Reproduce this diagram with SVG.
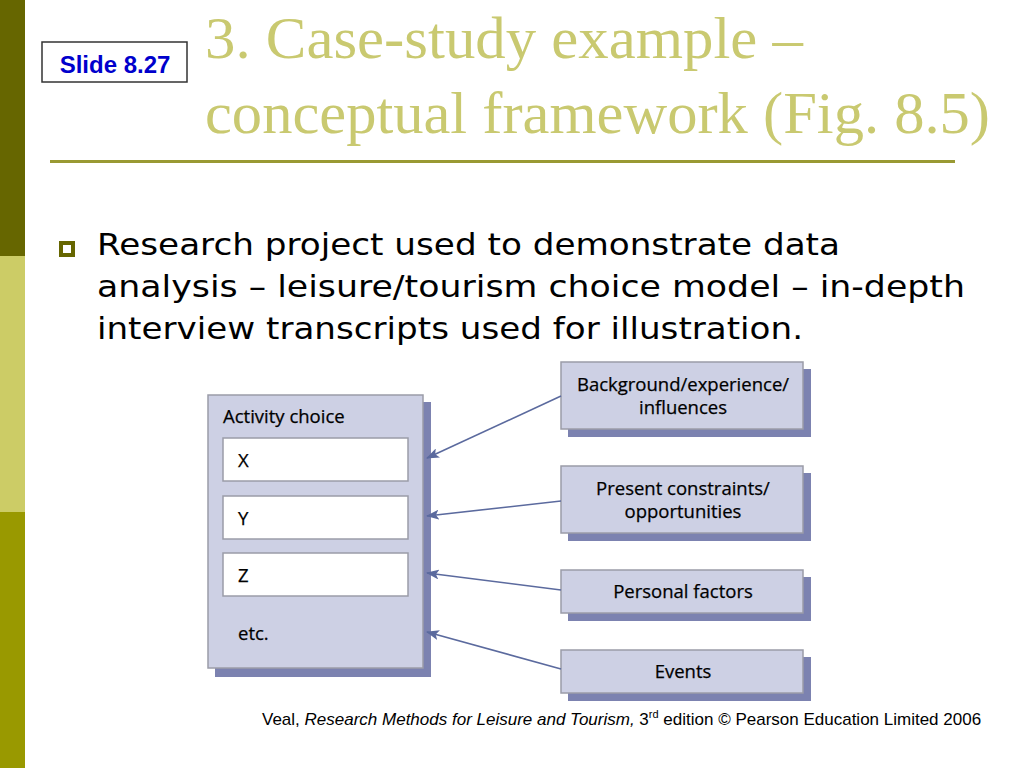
<svg xmlns="http://www.w3.org/2000/svg" width="1024" height="768" viewBox="0 0 1024 768">
<style>
.title{font-family:"Liberation Serif","Times New Roman",serif;font-size:60px;fill:#C9C970}
.bul{font-family:"DejaVu Sans",Verdana,sans-serif;font-size:30px;fill:#000}
.box{fill:#CDD0E4;stroke:#9B9CA8;stroke-width:1.5}
.shadow{fill:#7C82B0}
.inner{fill:#fff;stroke:#9B9CA8;stroke-width:1.5}
.lbl{font-family:"Open Sans","Noto Sans",sans-serif;font-size:18.5px;fill:#000;stroke:#000;stroke-width:0.25}
.ctr{text-anchor:middle}
.conn{stroke:#5B6A9E;stroke-width:1.6;fill:none;marker-end:url(#ah)}
.foot{font-family:"Liberation Sans",Arial,sans-serif;font-size:17px;fill:#000}
</style>
<defs>
<marker id="ah" markerWidth="13" markerHeight="10" refX="12" refY="5" orient="auto" markerUnits="userSpaceOnUse">
<path d="M0,0 L13,5 L0,10 L3,5 Z" fill="#5B6A9E"/>
</marker>
</defs>
<rect width="1024" height="768" fill="#fff"/>
<g id="sidebar">
<rect x="0" y="0" width="25" height="256" fill="#666600"/>
<rect x="0" y="256" width="25" height="256" fill="#CCCC66"/>
<rect x="0" y="512" width="25" height="256" fill="#999900"/>
</g>
<g id="slide-label">
<rect x="42" y="42" width="145" height="40" fill="#fff" stroke="#333" stroke-width="1.5"/>
<text x="115" y="73" text-anchor="middle" font-family="'Liberation Sans',Arial,sans-serif" font-size="24" font-weight="bold" fill="#0000CC">Slide 8.27</text>
</g>
<g id="title">
<text class="title" x="205" y="58" textLength="598" lengthAdjust="spacingAndGlyphs">3. Case-study example –</text>
<text class="title" x="205" y="133" textLength="785" lengthAdjust="spacingAndGlyphs">conceptual framework (Fig. 8.5)</text>
<rect x="50" y="160" width="905" height="3" fill="#999933"/>
</g>
<g id="bullet">
<rect x="61" y="243" width="12" height="12" fill="none" stroke="#666600" stroke-width="4"/>
<text class="bul" x="97" y="255" textLength="743" lengthAdjust="spacingAndGlyphs">Research project used to demonstrate data</text>
<text class="bul" x="97" y="297" textLength="868" lengthAdjust="spacingAndGlyphs">analysis – leisure/tourism choice model – in-depth</text>
<text class="bul" x="97" y="339" textLength="706" lengthAdjust="spacingAndGlyphs">interview transcripts used for illustration.</text>
</g>
<g id="activity-choice">
<rect class="shadow" x="215" y="402" width="216" height="275"/>
<rect class="box" x="208" y="395" width="215" height="273"/>
<text class="lbl" x="223" y="423">Activity choice</text>
<rect class="inner" x="223" y="438" width="185" height="43"/>
<text class="lbl" x="238" y="467">X</text>
<rect class="inner" x="223" y="496" width="185" height="43"/>
<text class="lbl" x="238" y="525">Y</text>
<rect class="inner" x="223" y="553" width="185" height="43"/>
<text class="lbl" x="238" y="582">Z</text>
<text class="lbl" x="238" y="640">etc.</text>
</g>
<g id="background">
<rect class="shadow" x="568" y="369" width="243" height="68"/>
<rect class="box" x="561" y="362" width="242" height="67"/>
<text class="lbl ctr" x="683" y="391">Background/experience/</text>
<text class="lbl ctr" x="683" y="414">influences</text>
</g>
<g id="constraints">
<rect class="shadow" x="568" y="473" width="243" height="68"/>
<rect class="box" x="561" y="466" width="242" height="67"/>
<text class="lbl ctr" x="683" y="495">Present constraints/</text>
<text class="lbl ctr" x="683" y="518">opportunities</text>
</g>
<g id="personal">
<rect class="shadow" x="568" y="577" width="243" height="44"/>
<rect class="box" x="561" y="570" width="242" height="43"/>
<text class="lbl ctr" x="683" y="598">Personal factors</text>
</g>
<g id="events">
<rect class="shadow" x="568" y="657" width="243" height="44"/>
<rect class="box" x="561" y="650" width="242" height="43"/>
<text class="lbl ctr" x="683" y="678">Events</text>
</g>
<g id="connectors">
<line class="conn" x1="561" y1="396" x2="427" y2="458"/>
<line class="conn" x1="561" y1="501" x2="427" y2="516"/>
<line class="conn" x1="561" y1="590" x2="427" y2="573"/>
<line class="conn" x1="561" y1="669" x2="427" y2="632"/>
</g>
<g id="footer">
<text class="foot" x="262" y="725">Veal, <tspan font-style="italic">Research Methods for Leisure and Tourism,</tspan> 3<tspan font-size="11" dy="-7">rd</tspan><tspan dy="7"> edition © Pearson Education Limited 2006</tspan></text>
</g>
</svg>
